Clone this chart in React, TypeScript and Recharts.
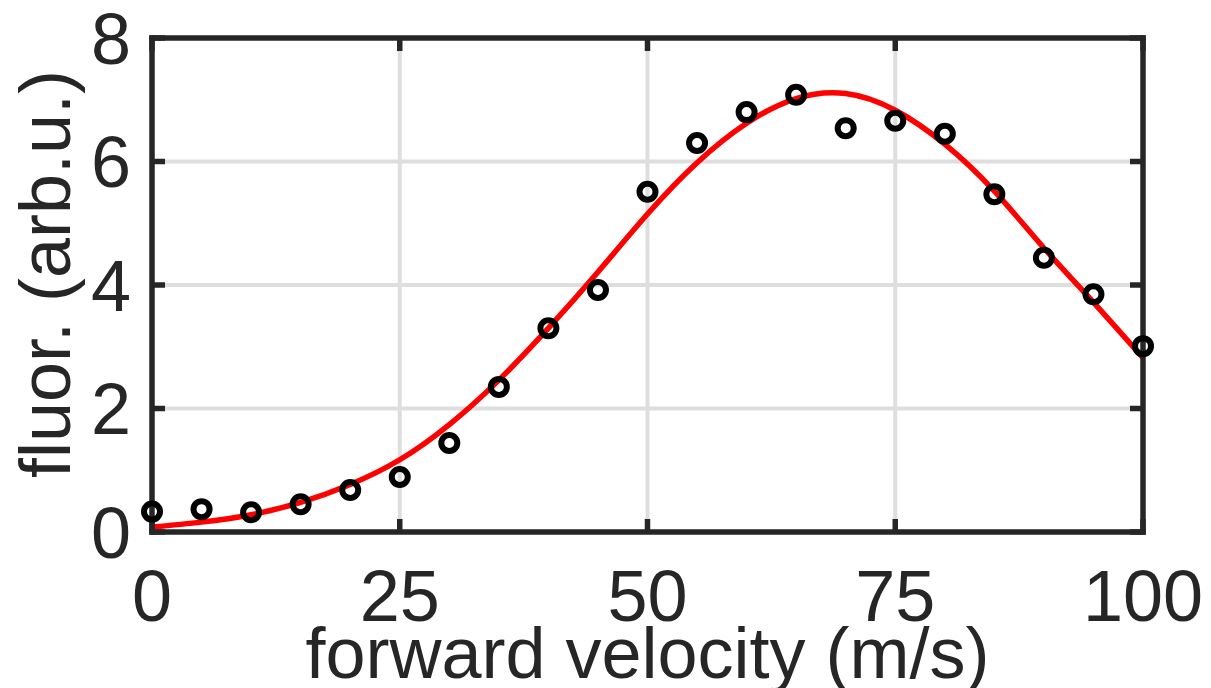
import { ComposedChart, CartesianGrid, XAxis, YAxis, Scatter, Line } from 'recharts'

// measured points (circles), velocity in m/s
const VELOCITY = [0, 5, 10, 15, 20, 25, 30, 35, 40, 45, 50, 55, 60, 65, 70, 75, 80, 85, 90, 95, 100]
const FLUOR = [
  0.33, 0.37, 0.32, 0.45, 0.68, 0.89, 1.44, 2.35, 3.3, 3.92, 5.51, 6.3, 6.8, 7.08, 6.54, 6.66, 6.45,
  5.47, 4.44, 3.85, 3.01,
]
const FIT = [
  0.08, 0.16, 0.28, 0.48, 0.77, 1.17, 1.74, 2.46, 3.3, 4.21, 5.15, 5.98, 6.62, 7.02, 7.1, 6.83, 6.28,
  5.52, 4.6, 3.72, 2.82,
]
const X_TICKS = [0, 25, 50, 75, 100]
const Y_TICKS = [0, 2, 4, 6, 8]

const AX = '#262626'
const FONT = '"Liberation Sans", Arial, Helvetica, sans-serif'
const FS = 72

const points = VELOCITY.map((v, i) => ({ v, f: FLUOR[i] }))
const fit = VELOCITY.map((v, i) => ({ v, f: FIT[i] }))

const axisLine = { stroke: AX, strokeWidth: 5.5, strokeLinecap: 'square' as const }
const tickLine = { stroke: AX, strokeWidth: 5.5 }
const tickText = { fill: AX, fontSize: FS, fontFamily: FONT }

function Ring(props: any) {
  const { cx, cy } = props
  if (cx == null || cy == null) return null
  return <circle cx={cx} cy={cy} r={8} fill="none" stroke="#000" strokeWidth={6} />
}

// top / right axes only carry the inward tick marks, no labels
const noLabel = () => <g />

export default function App() {
  return (
    <div style={{ position: 'absolute', left: 0, top: 0, background: '#fff' }}>
      <ComposedChart width={1211} height={688} margin={{ top: 37, right: 67, bottom: 0, left: 0 }}>
        <CartesianGrid stroke="#dedede" strokeWidth={4} />
        <XAxis
          type="number"
          dataKey="v"
          domain={[0, 100]}
          ticks={X_TICKS}
          interval={0}
          height={156}
          tickSize={-13}
          tickMargin={51}
          axisLine={axisLine}
          tickLine={tickLine}
          tick={tickText}
          label={{
            content: () => (
              <text x={647.5} y={678} textAnchor="middle" fill={AX} fontSize={FS} fontFamily={FONT}>
                forward velocity (m/s)
              </text>
            ),
          }}
        />
        <XAxis
          xAxisId="top"
          orientation="top"
          type="number"
          dataKey="v"
          domain={[0, 100]}
          ticks={X_TICKS}
          interval={0}
          height={1}
          tick={noLabel}
          tickSize={-13}
          axisLine={axisLine}
          tickLine={tickLine}
        />
        <YAxis
          type="number"
          dataKey="f"
          domain={[0, 8]}
          ticks={Y_TICKS}
          interval={0}
          width={152}
          tickSize={-13}
          tickMargin={34}
          axisLine={axisLine}
          tickLine={tickLine}
          tick={tickText}
          label={{
            content: () => (
              <text
                x={70}
                y={274}
                transform="rotate(-90 70 274)"
                textAnchor="middle"
                fill={AX}
                fontSize={FS}
                fontFamily={FONT}
              >
                fluor. (arb.u.)
              </text>
            ),
          }}
        />
        <YAxis
          yAxisId="right"
          orientation="right"
          type="number"
          dataKey="f"
          domain={[0, 8]}
          ticks={Y_TICKS}
          interval={0}
          width={1}
          tick={noLabel}
          tickSize={-13}
          axisLine={axisLine}
          tickLine={tickLine}
        />
        <Scatter data={points} dataKey="f" shape={Ring} isAnimationActive={false} />
        <Line
          xAxisId="top"
          yAxisId="right"
          data={fit}
          dataKey="f"
          type="natural"
          stroke="#ff0000"
          strokeWidth={5.5}
          dot={false}
          activeDot={false}
          isAnimationActive={false}
        />
      </ComposedChart>
    </div>
  )
}
